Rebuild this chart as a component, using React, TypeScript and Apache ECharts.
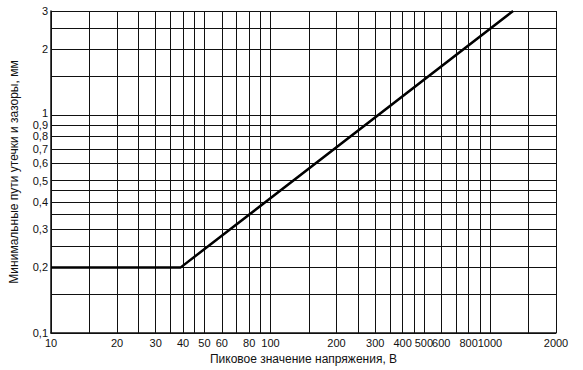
import React, { useEffect, useRef } from "react";
import * as echarts from "echarts";

const xGrid = [10, 15, 20, 25, 30, 35, 40, 45, 50, 60, 70, 80, 90, 100, 150, 200, 250, 300, 350, 400, 450, 500, 600, 700, 800, 900, 1000, 1500, 2000];
const xLabels = [10, 20, 30, 40, 50, 60, 80, 100, 200, 300, 400, 500, 600, 800, 1000, 2000];
const yGrid = [0.1, 0.15, 0.2, 0.25, 0.3, 0.35, 0.4, 0.45, 0.5, 0.6, 0.7, 0.8, 0.9, 1, 1.5, 2, 2.5, 3];
const yLabels = [0.1, 0.2, 0.3, 0.4, 0.5, 0.6, 0.7, 0.8, 0.9, 1, 2, 3];
const voltage = [10, 39, 1275];
const distance = [0.2, 0.2, 3];

const FONT = "Liberation Sans, Arial, sans-serif";

export default function App() {
  const ref = useRef<HTMLDivElement>(null);
  useEffect(() => {
    if (!ref.current) return;
    const chart = echarts.init(ref.current, undefined, { renderer: "svg" });
    const base = { fontFamily: FONT, fontSize: 11, lineHeight: 9, color: "#111" };
    chart.setOption({
      animation: false,
      grid: { left: 47, top: 11, right: 27, bottom: 33, containLabel: false },
      xAxis: {
        type: "log",
        logBase: 10,
        min: 10,
        max: 2000,
        name: "Пиковое значение напряжения, В",
        nameLocation: "middle",
        nameGap: 20,
        nameTextStyle: { fontFamily: FONT, fontSize: 12, color: "#111" },
        axisLine: { show: true, lineStyle: { color: "#111", width: 1.5 } },
        axisTick: { show: false, customValues: xGrid },
        splitLine: { show: true, lineStyle: { color: "#111", width: 1 } },
        axisLabel: {
          customValues: xLabels,
          margin: 4,
          fontFamily: FONT,
          fontSize: 11,
          lineHeight: 11,
          color: "#111",
          formatter: (v: number) => String(Math.round(v)),
          showMinLabel: true,
          showMaxLabel: true,
        },
      },
      yAxis: {
        type: "log",
        logBase: 10,
        min: 0.1,
        max: 3,
        name: "Минимальные пути утечки и зазоры, мм",
        nameLocation: "middle",
        nameGap: 31,
        nameTextStyle: { fontFamily: FONT, fontSize: 12, color: "#111" },
        axisLine: { show: true, lineStyle: { color: "#111", width: 1.5 } },
        axisTick: { show: false, customValues: yGrid },
        splitLine: { show: true, lineStyle: { color: "#111", width: 1 } },
        axisLabel: {
          customValues: yLabels,
          margin: 3,
          ...base,
          formatter: (v: number) => {
            const r = Math.round(v * 10) / 10;
            const s = String(r).replace(".", ",");
            if (r === 1) return "{up|" + s + "}";
            return s;
          },
          rich: {
            up: { ...base, padding: [0, 0, 5, 0] },
          },
          showMinLabel: true,
          showMaxLabel: true,
        },
      },
      series: [
        {
          type: "line",
          data: voltage.map((v, i) => [v, distance[i]]),
          symbol: "none",
          lineStyle: { color: "#000", width: 2.5 },
          clip: true,
        },
      ],
    });
    return () => chart.dispose();
  }, []);
  return <div ref={ref} style={{ width: 583, height: 370, position: "absolute", left: 0, top: 0 }} />;
}
